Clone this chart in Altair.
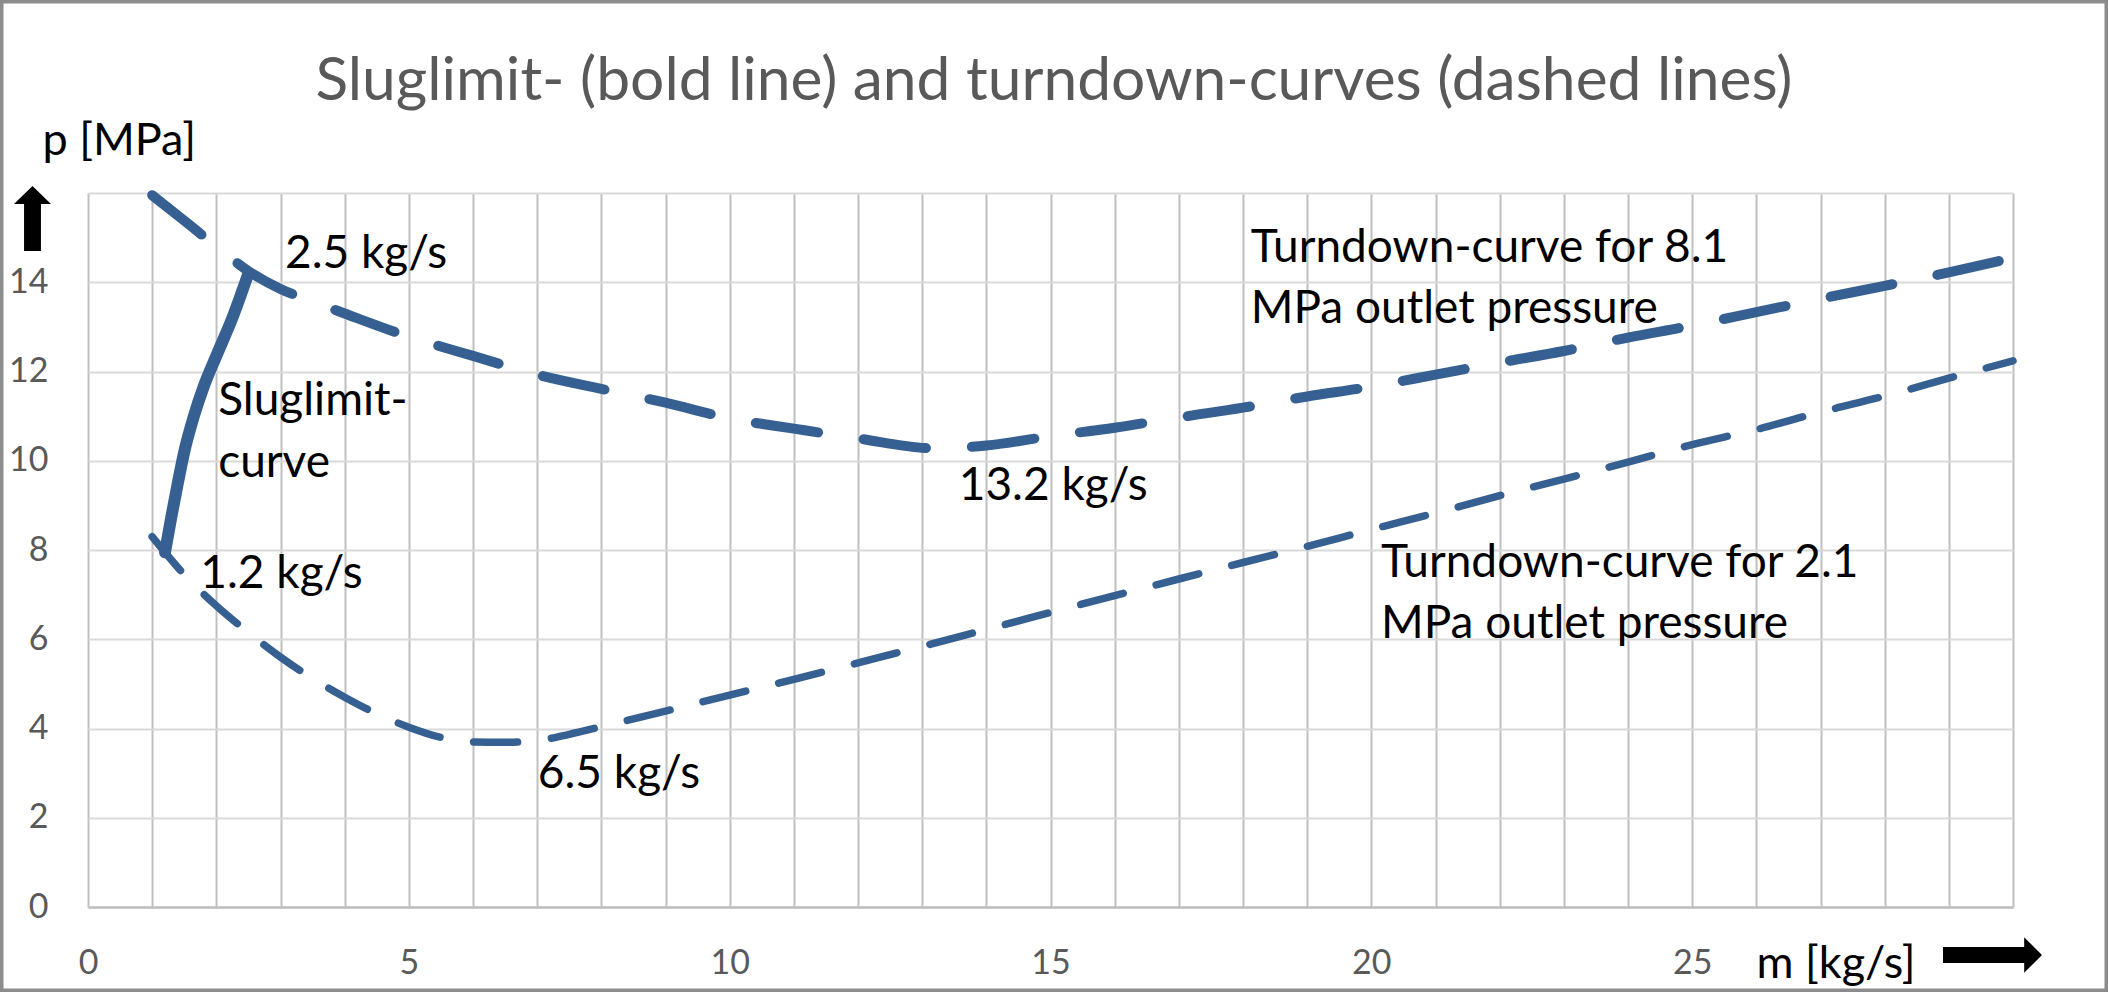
import altair as alt
import pandas as pd

# Turndown curve for 8.1 MPa outlet pressure
m_81 = [1, 1.5, 2, 2.5, 3, 3.5, 4, 5, 6, 7, 8, 9, 10, 11, 12, 13.2, 14, 15, 16,
        17, 18, 19, 20, 21, 22, 23, 24, 25, 26, 27, 28, 29, 30]
p_81 = [15.95, 15.38, 14.8, 14.25, 13.85, 13.57, 13.3, 12.78, 12.35, 11.93, 11.61,
        11.3, 10.95, 10.72, 10.5, 10.28, 10.34, 10.55, 10.74, 10.97, 11.19, 11.44,
        11.66, 11.93, 12.2, 12.46, 12.76, 13.03, 13.33, 13.63, 13.92, 14.22, 14.55]

# Turndown curve for 2.1 MPa outlet pressure
m_21 = [1, 1.5, 2, 2.5, 3, 3.5, 4, 4.5, 5, 5.5, 6, 6.5, 7, 7.5, 8, 9, 10, 11, 12,
        13, 14, 15, 16, 17, 18, 19, 20, 21, 22, 23, 24, 25, 26, 27, 28, 29, 30]
p_21 = [8.3, 7.45, 6.75, 6.15, 5.6, 5.12, 4.7, 4.33, 4.03, 3.8, 3.7, 3.69, 3.73,
        3.87, 4.04, 4.39, 4.75, 5.1, 5.47, 5.84, 6.22, 6.6, 6.98, 7.35, 7.72, 8.08,
        8.46, 8.83, 9.22, 9.59, 9.97, 10.36, 10.7, 11.09, 11.45, 11.85, 12.24]

# Slug limit curve between 1.2 kg/s and 2.5 kg/s
m_slug = [1.2, 1.3, 1.4, 1.5, 1.65, 1.8, 2.0, 2.25, 2.5]
p_slug = [7.95, 8.75, 9.5, 10.2, 11.0, 11.65, 12.35, 13.2, 14.2]

x_ticks = list(range(0, 31))
y_ticks = list(range(0, 17, 2))

# Annotations (text, mass flow, pressure at baseline)
note_text = ["2.5 kg/s", "Sluglimit-", "curve", "1.2 kg/s", "13.2 kg/s", "6.5 kg/s",
             "Turndown-curve for 8.1", "MPa outlet pressure",
             "Turndown-curve for 2.1", "MPa outlet pressure"]
note_m = [3.07, 2.03, 2.03, 1.75, 13.57, 7.01, 18.12, 18.12, 20.15, 20.15]
note_p = [14.32, 11.03, 9.64, 7.15, 9.12, 2.67, 14.45, 13.09, 7.39, 6.03]

TITLE = "Sluglimit- (bold line) and turndown-curves (dashed lines)"

BLUE = "#376092"
FONT = "Lato"
FULL_W, FULL_H = 2108, 992
LEFT, TOP, RIGHT, BOTTOM = 88, 193, 95, 85
W, H = FULL_W - LEFT - RIGHT, FULL_H - TOP - BOTTOM

x_scale = alt.Scale(domain=[0, 30], nice=False, zero=False)
y_scale = alt.Scale(domain=[0, 16], nice=False, zero=False)

x_axis = alt.Axis(
    values=x_ticks,
    labelExpr="datum.value % 5 == 0 && datum.value < 30 ? datum.label : ''",
    grid=True, gridColor="#BFBFBF", gridWidth=2,
    domain=True, domainColor="#BFBFBF", domainWidth=2.5,
    ticks=False, tickSize=0,
    labelFont=FONT, labelFontSize=34, labelColor="#595959",
    labelBaseline="alphabetic", labelPadding=66,
    labelFlush=False, labelOverlap=False,
    title="m [kg/s]", titleFont=FONT, titleFontSize=45, titleFontWeight="normal",
    titleColor="black", titleAngle=0, titleAlign="left", titleBaseline="alphabetic",
    titleX=1756 - LEFT, titleY=977 - (TOP + H),
)
y_axis = alt.Axis(
    values=y_ticks,
    labelExpr="datum.value < 16 ? datum.label : ''",
    grid=True, gridColor="#D9D9D9", gridWidth=2,
    domain=False, ticks=False, tickSize=0,
    labelFont=FONT, labelFontSize=34, labelColor="#595959",
    labelBaseline="middle", labelPadding=40, labelOverlap=False,
    title="p [MPa]", titleFont=FONT, titleFontSize=45, titleFontWeight="normal",
    titleColor="black", titleAngle=0, titleAlign="left", titleBaseline="alphabetic",
    titleX=42 - LEFT, titleY=154 - TOP,
)

X = alt.X("m:Q", scale=x_scale, axis=x_axis)
Y = alt.Y("p:Q", scale=y_scale, axis=y_axis)

df_81 = pd.DataFrame({"m": m_81, "p": p_81})
df_21 = pd.DataFrame({"m": m_21, "p": p_21})
df_slug = pd.DataFrame({"m": m_slug, "p": p_slug})
df_notes = pd.DataFrame({"m": note_m, "p": note_p, "t": note_text})
one = pd.DataFrame({"k": [0]})

curve_81 = alt.Chart(df_81).mark_line(
    color=BLUE, strokeWidth=10, strokeCap="round", strokeDash=[63, 46],
    interpolate="monotone",
).encode(x=X, y=Y)

curve_21 = alt.Chart(df_21).mark_line(
    color=BLUE, strokeWidth=7.5, strokeCap="round", strokeDash=[44, 34],
    interpolate="monotone",
).encode(x=X, y=Y)

slug = alt.Chart(df_slug).mark_line(
    color=BLUE, strokeWidth=12, strokeCap="round", strokeJoin="round",
    interpolate="monotone",
).encode(x=X, y=Y)

notes = alt.Chart(df_notes).mark_text(
    font=FONT, fontSize=46, color="black", align="left", baseline="alphabetic",
).encode(x=X, y=Y, text="t:N")

title = alt.Chart(one).mark_text(
    text=TITLE, font=FONT, fontSize=60.5, fontWeight="normal", color="#595959",
    align="center", baseline="alphabetic",
).encode(x=alt.value(1054 - LEFT), y=alt.value(100 - TOP))

# Direction arrows next to the axis titles
UP = "M0,-1 L0.57,-0.45 L0.26,-0.45 L0.26,1 L-0.26,1 L-0.26,-0.45 L-0.57,-0.45 Z"
RIGHT_ARROW = "M1,0 L0.64,-0.36 L0.64,-0.16 L-1,-0.16 L-1,0.16 L0.64,0.16 L0.64,0.36 Z"

up_arrow = alt.Chart(one).mark_point(
    shape=UP, size=65 ** 2, filled=True, fill="black", strokeWidth=0, opacity=1,
).encode(x=alt.value(32.5 - LEFT), y=alt.value(218.5 - TOP))

right_arrow = alt.Chart(one).mark_point(
    shape=RIGHT_ARROW, size=99 ** 2, filled=True, fill="black", strokeWidth=0, opacity=1,
).encode(x=alt.value(1992.5 - LEFT), y=alt.value(955 - TOP))

# Chart-area border
frame = alt.Chart(one).mark_rect(
    fill="transparent", stroke="#8C8C8C", strokeWidth=3.5,
).encode(
    x=alt.value(-LEFT + 1.75), x2=alt.value(FULL_W - LEFT - 1.75),
    y=alt.value(-TOP + 1.75), y2=alt.value(FULL_H - TOP - 1.75),
)

chart = alt.layer(
    curve_21, curve_81, slug, notes, title, up_arrow, right_arrow, frame
).properties(
    width=W, height=H,
    autosize=alt.AutoSizeParams(type="none"),
    padding={"left": LEFT, "top": TOP, "right": RIGHT, "bottom": BOTTOM},
).configure(background="white").configure_view(strokeWidth=0)

chart.save("out.html", embed_options={"renderer": "svg", "actions": False})
